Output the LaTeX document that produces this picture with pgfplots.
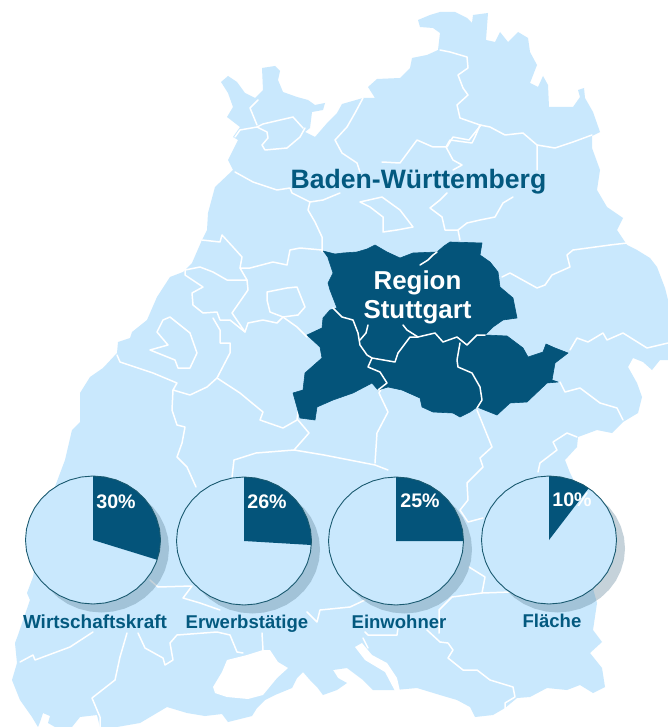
\documentclass[border=0pt]{standalone}
\usepackage{pgfplots}
\usepackage{pgfplotstable}
\usepackage{fontspec}
\setmainfont{Liberation Sans}
\pgfplotsset{compat=1.18}

\definecolor{land}{HTML}{C9E8FD}
\definecolor{dark}{HTML}{04547A}
\definecolor{titleblue}{HTML}{03597F}
\definecolor{shadow}{HTML}{5B7F95}
\definecolor{pieedge}{HTML}{1A5A70}

% pie outline, offsets from the centre in pixels
\pgfplotstableread{
x y
0 -64
11.7 -63
23.1 -60.1
33.8 -55.4
43.4 -49
51.7 -41.1
58.5 -32
63.4 -21.9
66.5 -11.1
67.5 0
66.5 11.1
63.4 21.9
58.5 32
51.7 41.1
43.4 49
33.8 55.4
23.1 60.1
11.7 63
0 64
-11.7 63
-23.1 60.1
-33.8 55.4
-43.4 49
-51.7 41.1
-58.5 32
-63.4 21.9
-66.5 11.1
-67.5 0
-66.5 -11.1
-63.4 -21.9
-58.5 -32
-51.7 -41.1
-43.4 -49
-33.8 -55.4
-23.1 -60.1
-11.7 -63
}\circletab

% wedges, same offsets
\pgfplotstableread{
x y
0 0
0 -64
11.7 -63
23.1 -60.1
33.8 -55.4
43.4 -49
51.7 -41.1
58.5 -32
63.4 -21.9
66.5 -11.1
67.5 0
66.5 11.1
64.2 19.8
}\wedgeA
\pgfplotstableread{
x y
0 0
0 -64
11.7 -63
23.1 -60.1
33.8 -55.4
43.4 -49
51.7 -41.1
58.5 -32
63.4 -21.9
66.5 -11.1
67.5 0
67.4 4
}\wedgeB
\pgfplotstableread{
x y
0 0
0 -64
11.7 -63
23.1 -60.1
33.8 -55.4
43.4 -49
51.7 -41.1
58.5 -32
63.4 -21.9
66.5 -11.1
67.5 0
}\wedgeC
\pgfplotstableread{
x y
0 0
0 -64
11.7 -63
23.1 -60.1
33.8 -55.4
39.7 -51.8
}\wedgeD

\newcommand\border[1]{\addplot[white, line width=1.5bp, line join=round, line cap=round] coordinates {#1};}
\newcommand\pie[3]{%
  \addplot[draw=none, fill=shadow, fill opacity=.35] table[x expr=\thisrow{x}+#1+8.5, y expr=\thisrow{y}+#2+8.5] {\circletab};
  \addplot[draw=none, fill=land] table[x expr=\thisrow{x}+#1, y expr=\thisrow{y}+#2] {\circletab};
  \addplot[draw=none, fill=dark] table[x expr=\thisrow{x}+#1, y expr=\thisrow{y}+#2] {#3};
  \addplot[pieedge, line width=.9bp] table[x expr=\thisrow{x}+#1, y expr=\thisrow{y}+#2] {\circletab} -- cycle;
}

\begin{document}
\begin{tikzpicture}
\begin{axis}[
  scale only axis, width=668bp, height=727bp,
  xmin=0, xmax=668, ymin=0, ymax=727,
  y dir=reverse,
  axis lines=none,
  no markers,
  clip=true,
]
\addplot[draw=none, fill=white] coordinates {(0,0) (668,0) (668,727) (0,727)};

% state outline
\addplot[draw=none, fill=land] coordinates {
(221,82) (228,76) (237,82) (245,93) (255,98) (263,90) (262,68) (275,66) (280,71) (278,80) (283,92) (297,97) (308,100) (315,105) (325,103) (323,110) (312,112) (310,128) (305,132) (315,137) (328,122) (337,113) (342,104) (363,98) (375,98) (368,87) (377,79) (400,78) (410,68) (412,58) (427,55) (438,50) (440,33) (433,28) (420,27) (418,20) (430,15) (440,12) (455,12) (467,18) (472,23) (473,15) (488,13) (486,40) (495,42) (500,32) (508,42) (518,32) (528,38) (530,52) (537,65) (530,83) (538,87) (543,76) (548,85) (549,107) (573,107) (580,97) (578,90) (584,88) (585,98) (593,112) (600,132) (592,136) (592,148) (600,170) (597,190) (607,207) (623,218) (617,230) (627,245) (637,250) (650,258) (657,267) (665,288) (668,300) (668,360) (660,360) (652,370) (643,362) (633,358) (628,367) (637,383) (642,397) (638,413) (623,422) (612,433) (597,430) (578,437) (577,447) (565,460) (570,473) (575,483) (585,560) (597,603) (593,630) (602,642) (590,653) (602,668) (605,687) (593,693) (580,685) (567,690) (547,688) (530,697) (517,698) (505,708) (493,715) (475,717) (470,707) (457,700) (440,695) (417,688) (395,690) (373,690) (363,680) (347,668) (333,670) (338,678) (347,683) (337,690) (323,695) (317,687) (310,680) (303,672) (297,678) (292,688) (275,695) (265,700) (257,708) (252,716) (228,722) (222,714) (205,716) (187,713) (167,707) (140,723) (117,727) (100,727) (97,715) (80,717) (72,727) (55,727) (48,723) (50,716) (43,713) (40,722) (38,727) (32,717) (20,700) (12,680) (17,663) (15,643) (18,635) (30,600) (27,593) (33,577) (40,540) (50,500) (65,460) (72,430) (80,422) (80,393) (90,377) (103,368) (117,353) (118,342) (130,338) (132,332) (147,320) (157,297) (170,277) (183,272) (192,263) (202,240) (207,230) (208,213) (215,187) (233,170) (228,160) (238,140) (233,137) (240,127) (227,117) (233,107) (228,93)
};
% lake and the bay in the south
\addplot[draw=none, fill=white] coordinates {(355,647) (362,643) (372,655) (387,663) (397,678) (400,691) (395,691) (385,672) (365,660)};
\addplot[draw=none, fill=white] coordinates {(213,687) (222,672) (227,660) (247,655) (263,650) (270,650) (278,662) (288,668) (277,678) (263,695) (248,699) (227,697) (215,693)};

% district borders
\border{(235,137) (240,130) (257,127) (267,132) (268,138) (262,145) (265,150) (287,148) (300,137) (305,128)}
\border{(257,127) (263,124) (293,117) (303,128)}
\border{(257,125) (250,108) (258,100)}
\border{(363,98) (355,113) (347,127) (335,140) (342,153) (357,163) (360,172)}
\border{(235,172) (253,182) (277,190) (290,188) (292,193) (310,202) (308,210) (315,222) (322,237) (322,252)}
\border{(310,202) (323,200) (340,193)}
\border{(382,162) (400,163) (417,140) (433,147) (447,147) (453,137) (469,140) (481,125)}
\border{(440,50) (450,52) (467,57) (468,68) (458,75) (463,88) (468,95) (457,105) (460,118) (480,125) (475,137) (472,143) (450,140) (446,147) (453,160) (462,165) (453,170)}
\border{(480,125) (490,127) (505,135) (523,133) (537,145) (537,170)}
\border{(537,145) (555,148) (573,142) (592,135)}
\border{(513,197) (503,203) (495,217) (480,220) (467,223) (458,230) (445,230) (442,217) (430,208) (440,200) (447,193)}
\border{(458,230) (460,240)}
\border{(360,202) (382,197) (400,210) (413,227) (397,230) (383,232) (383,217) (370,207) (360,202)}
\border{(502,277) (510,273) (537,288) (545,285) (552,275) (570,267) (567,255) (573,250) (610,245) (627,243)}
\border{(570,350) (577,338) (588,342) (603,333) (607,340) (623,333) (647,348) (668,343)}
\border{(560,382) (565,392) (580,388) (600,403) (617,408) (623,420)}
\border{(477,410) (492,447) (480,458) (483,467) (467,483) (468,500) (460,510) (468,522) (483,518)}
\border{(577,437) (567,433) (553,442) (557,450) (540,463) (538,472)}
\border{(202,240) (220,242) (222,235) (233,247) (242,257) (240,268) (247,280) (227,280) (213,272) (200,267) (185,270) (185,275) (203,287) (192,293) (193,305) (203,313) (217,312) (220,320) (230,320) (245,332) (248,323) (263,320) (277,323) (283,317) (297,327) (307,337)}
\border{(247,280) (248,290) (232,313) (245,332)}
\border{(240,268) (250,268) (273,262) (287,265) (290,250) (300,248) (322,250)}
\border{(267,292) (287,288) (297,287) (305,307) (298,315) (283,317) (270,312) (267,300) (267,292)}
\border{(163,320) (170,317) (190,333) (197,353) (190,368) (178,368) (175,360) (150,350) (168,345) (157,332) (163,320)}
\border{(117,355) (120,362) (153,373) (177,383) (173,390) (190,395) (207,387) (217,378) (230,353) (230,343) (220,343) (220,330) (213,318)}
\border{(217,378) (240,393) (252,403) (263,412) (260,420) (283,428) (297,420) (298,412)}
\border{(173,390) (172,410) (177,425) (185,427) (182,443) (177,457) (187,467) (196,487)}
\border{(298,420) (309,433) (294,450) (324,455) (375,465) (388,470)}
\border{(294,450) (256,453) (234,460) (232,477)}
\border{(375,370) (386,380) (379,393) (388,412) (377,433) (375,463)}
\border{(150,580) (158,587) (192,586) (183,598) (200,603) (220,610)}
\border{(20,662) (33,655) (35,660) (70,647) (93,632)}
\border{(127,633) (120,657) (115,680) (92,698) (100,717) (100,727)}
\border{(138,633) (145,648) (163,658) (165,665) (173,660) (170,643) (177,635) (217,632) (230,635) (237,652) (243,653)}
\border{(262,633) (263,650)}
\border{(307,612) (317,622) (320,610) (350,607) (365,600)}
\border{(365,632) (368,635) (397,635) (398,628)}
\border{(363,638) (368,648)}
\border{(427,630) (440,642) (448,643) (453,650) (448,658) (463,670) (477,670) (490,680) (513,687) (515,697) (505,703) (505,710)}
\border{(469,567) (485,577) (482,593) (511,592)}
\border{(482,593) (452,597) (439,610) (439,633)}

% Region Stuttgart
\addplot[draw=dark, line width=.6bp, line join=round, fill=dark] coordinates {
(323,251) (335,254) (343,253) (357,252) (367,249) (375,245) (387,252) (400,258) (413,253) (437,252) (444,246) (450,242) (482,243) (480,255) (490,262) (498,272) (500,287) (513,298) (517,318) (503,320) (493,327) (485,335) (507,336) (523,348) (528,357) (543,352) (546,344) (555,348) (568,353) (555,363) (552,380) (558,382) (547,383) (527,402) (510,403) (497,415) (477,407) (470,412) (460,417) (453,413) (433,412) (422,407) (420,398) (402,390) (388,387) (378,390) (372,383) (353,393) (333,400) (317,407) (315,420) (300,418) (293,393) (303,390) (305,373) (322,358) (320,347) (307,335) (322,328) (323,318) (330,310) (337,308) (330,290) (328,283) (333,273) (328,258)
};
\border{(420,265) (428,260) (433,255) (437,252)}
\border{(333,308) (342,317) (353,320) (358,333) (360,345) (367,355) (372,358) (395,362) (398,353) (410,337) (418,337)}
\border{(368,325) (366,333) (360,340)}
\border{(403,325) (407,330) (418,337) (435,333) (443,342) (457,337) (467,345) (477,335) (485,335)}
\border{(460,343) (457,360) (458,367) (472,373) (480,387) (482,400) (477,408)}
\border{(372,358) (368,367) (380,372) (387,383) (378,390)}

% pies
\pie{93}{540}{\wedgeA}
\pie{244}{541}{\wedgeB}
\pie{396}{541}{\wedgeC}
\pie{549}{540}{\wedgeD}

% labels
\node[anchor=base, text=titleblue, font=\bfseries\fontsize{26.7}{30}\selectfont] at (axis cs:418.5,189) {Baden-Württemberg};
\node[anchor=base, text=white, font=\bfseries\fontsize{26}{30}\selectfont] at (axis cs:417.5,289) {Region};
\node[anchor=base, text=white, font=\bfseries\fontsize{26}{30}\selectfont] at (axis cs:417.5,318) {Stuttgart};
\node[anchor=base, text=white, font=\bfseries\fontsize{19.7}{23}\selectfont] at (axis cs:116,508) {30\%};
\node[anchor=base, text=white, font=\bfseries\fontsize{19.7}{23}\selectfont] at (axis cs:267,508) {26\%};
\node[anchor=base, text=white, font=\bfseries\fontsize{19.7}{23}\selectfont] at (axis cs:420,507) {25\%};
\node[anchor=base, text=white, font=\bfseries\fontsize{19.7}{23}\selectfont] at (axis cs:572,506) {10\%};
\node[anchor=base, text=titleblue, font=\bfseries\fontsize{19}{22}\selectfont] at (axis cs:95,628) {Wirtschaftskraft};
\node[anchor=base, text=titleblue, font=\bfseries\fontsize{18.6}{22}\selectfont] at (axis cs:247,628) {Erwerbstätige};
\node[anchor=base, text=titleblue, font=\bfseries\fontsize{18.6}{22}\selectfont] at (axis cs:399,628) {Einwohner};
\node[anchor=base, text=titleblue, font=\bfseries\fontsize{18.6}{22}\selectfont] at (axis cs:552,627) {Fläche};
\end{axis}
\end{tikzpicture}
\end{document}
